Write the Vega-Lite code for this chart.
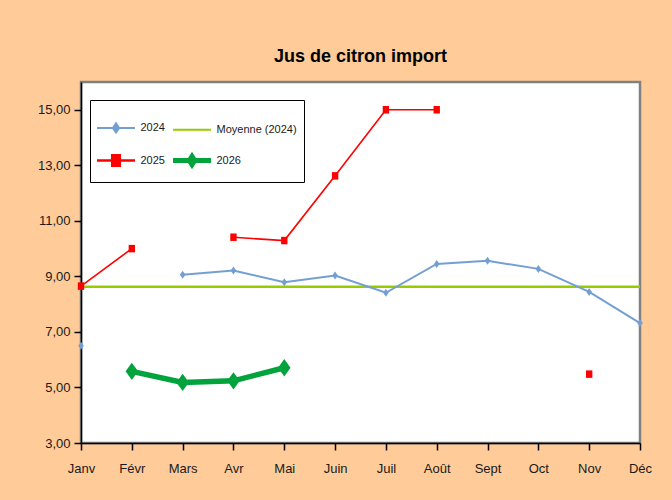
{
  "$schema": "https://vega.github.io/schema/vega-lite/v6.json",
  "width": 559,
  "height": 361,
  "autosize": {"type": "none"},
  "padding": {"left": 81, "top": 82, "right": 32, "bottom": 57},
  "background": "#FFCC99",
  "title": {"text": "Jus de citron import", "font": "Liberation Sans", "fontSize": 18, "fontWeight": "bold", "color": "#000000", "anchor": "middle", "offset": 16},
  "config": {
    "view": {"stroke": "#808080", "strokeWidth": 2.5, "fill": "white"},
    "font": "Liberation Sans"
  },
  "data": {"values": [
    {"m": "Janv", "s": "Moyenne (2024)", "v": 8.63},
    {"m": "Févr", "s": "Moyenne (2024)", "v": 8.63},
    {"m": "Mars", "s": "Moyenne (2024)", "v": 8.63},
    {"m": "Avr", "s": "Moyenne (2024)", "v": 8.63},
    {"m": "Mai", "s": "Moyenne (2024)", "v": 8.63},
    {"m": "Juin", "s": "Moyenne (2024)", "v": 8.63},
    {"m": "Juil", "s": "Moyenne (2024)", "v": 8.63},
    {"m": "Août", "s": "Moyenne (2024)", "v": 8.63},
    {"m": "Sept", "s": "Moyenne (2024)", "v": 8.63},
    {"m": "Oct", "s": "Moyenne (2024)", "v": 8.63},
    {"m": "Nov", "s": "Moyenne (2024)", "v": 8.63},
    {"m": "Déc", "s": "Moyenne (2024)", "v": 8.63},
    {"m": "Janv", "s": "2024", "v": 6.5},
    {"m": "Févr", "s": "2024", "v": null},
    {"m": "Mars", "s": "2024", "v": 9.06},
    {"m": "Avr", "s": "2024", "v": 9.21},
    {"m": "Mai", "s": "2024", "v": 8.79},
    {"m": "Juin", "s": "2024", "v": 9.03},
    {"m": "Juil", "s": "2024", "v": 8.41},
    {"m": "Août", "s": "2024", "v": 9.45},
    {"m": "Sept", "s": "2024", "v": 9.56},
    {"m": "Oct", "s": "2024", "v": 9.27},
    {"m": "Nov", "s": "2024", "v": 8.44},
    {"m": "Déc", "s": "2024", "v": 7.32},
    {"m": "Janv", "s": "2025", "v": 8.65},
    {"m": "Févr", "s": "2025", "v": 10.0},
    {"m": "Mars", "s": "2025", "v": null},
    {"m": "Avr", "s": "2025", "v": 10.41},
    {"m": "Mai", "s": "2025", "v": 10.29},
    {"m": "Juin", "s": "2025", "v": 12.62},
    {"m": "Juil", "s": "2025", "v": 15.0},
    {"m": "Août", "s": "2025", "v": 15.0},
    {"m": "Sept", "s": "2025", "v": null},
    {"m": "Oct", "s": "2025", "v": null},
    {"m": "Nov", "s": "2025", "v": 5.48},
    {"m": "Déc", "s": "2025", "v": null},
    {"m": "Févr", "s": "2026", "v": 5.58},
    {"m": "Mars", "s": "2026", "v": 5.18},
    {"m": "Avr", "s": "2026", "v": 5.24},
    {"m": "Mai", "s": "2026", "v": 5.71}
  ]},
  "encoding": {
    "x": {
      "field": "m", "type": "ordinal",
      "sort": ["Janv", "Févr", "Mars", "Avr", "Mai", "Juin", "Juil", "Août", "Sept", "Oct", "Nov", "Déc"],
      "scale": {"type": "point", "padding": 0},
      "axis": {"title": null, "labelAngle": 0, "grid": false, "domainColor": "#000000", "domainWidth": 1.5, "tickColor": "#000000", "tickWidth": 1.5, "tickSize": 7, "labelFontSize": 13, "labelColor": "#1a1a1a", "labelPadding": 12}
    },
    "y": {
      "field": "v", "type": "quantitative",
      "scale": {"domain": [3, 16], "nice": false, "zero": false},
      "axis": {"title": null, "grid": false, "values": [3, 5, 7, 9, 11, 13, 15], "labelExpr": "replace(format(datum.value, '.2f'), '.', ',')", "domainColor": "#000000", "domainWidth": 1.5, "tickColor": "#000000", "tickWidth": 1.5, "tickSize": 7, "labelFontSize": 13, "labelColor": "#1a1a1a", "labelPadding": 4}
    },
    "color": {
      "field": "s", "type": "nominal",
      "scale": {"domain": ["2024", "2025", "Moyenne (2024)", "2026"], "range": ["#739FD3", "#FF0000", "#99CC00", "#00A33C"]},
      "legend": {
        "title": " ", "titleFontSize": 12, "titlePadding": 3, "orient": "none", "legendX": 9, "legendY": 18, "columns": 2,
        "fillColor": "white", "strokeColor": "black", "padding": 7,
        "labelFontSize": 11, "labelColor": "#1a1a1a", "labelOffset": 19, "symbolOffset": 13.5, "columnPadding": -2, "rowPadding": 9,
        "symbolSize": 1444,
        "encode": {
          "symbols": {"update": {
            "shape": {"signal": "datum.value === '2024' ? 'M-1,0H1M0,-0.24L0.16,0L0,0.24L-0.16,0Z' : datum.value === '2025' ? 'M-1,0H1M-0.2,-0.27H0.2V0.27H-0.2Z' : datum.value === '2026' ? 'M-1,0H1M0,-0.22L0.14,0L0,0.22L-0.14,0Z' : 'M-1,0H1'"},
            "strokeWidth": {"signal": "datum.value === '2026' ? 5 : datum.value === '2025' ? 2.5 : 2"},
            "fill": {"scale": "color", "field": "value"},
            "stroke": {"scale": "color", "field": "value"},
            "opacity": {"value": 1},
            "fillOpacity": {"value": 1},
            "strokeOpacity": {"value": 1},
            "size": {"value": 1444}
          }}
        }
      }
    }
  },
  "layer": [
    {"transform": [{"filter": "datum.s === 'Moyenne (2024)'"}], "mark": {"type": "line", "strokeWidth": 2.5}},
    {"transform": [{"filter": "datum.s === '2024'"}], "mark": {"type": "line", "strokeWidth": 2}},
    {"transform": [{"filter": "datum.s === '2024'"}], "mark": {"type": "point", "filled": true, "opacity": 1, "shape": "M0,-1L0.7,0L0,1L-0.7,0Z", "size": 64}},
    {"transform": [{"filter": "datum.s === '2025'"}], "mark": {"type": "line", "strokeWidth": 1.6}},
    {"transform": [{"filter": "datum.s === '2025'"}], "mark": {"type": "point", "filled": true, "opacity": 1, "shape": "M-0.85,-1H0.85V1H-0.85Z", "size": 56}},
    {"transform": [{"filter": "datum.s === '2026'"}], "mark": {"type": "line", "strokeWidth": 5.5}},
    {"transform": [{"filter": "datum.s === '2026'"}], "mark": {"type": "point", "filled": true, "opacity": 1, "shape": "M0,-1L0.72,0L0,1L-0.72,0Z", "size": 300}}
  ]
}
